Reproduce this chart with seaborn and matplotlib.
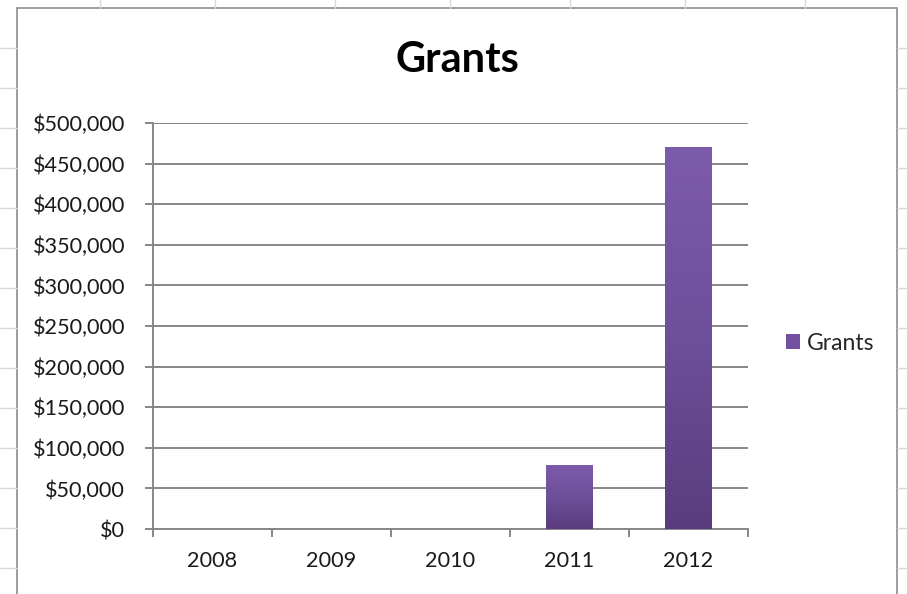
import matplotlib
matplotlib.use("Agg")
import matplotlib.pyplot as plt
import matplotlib.patches as mpatches
from matplotlib.colors import LinearSegmentedColormap
from matplotlib.ticker import FuncFormatter, FixedLocator
import numpy as np
import pandas as pd
import seaborn as sns

years = ["2008", "2009", "2010", "2011", "2012"]
grants = [0, 0, 0, 79000, 470000]
yticks = [0, 50000, 100000, 150000, 200000, 250000, 300000, 350000, 400000, 450000, 500000]

sns.set_theme(style="white")
plt.rcParams['font.family'] = ['Lato', 'DejaVu Sans']

df = pd.DataFrame({"Year": years, "Grants": grants})

fig = plt.figure(figsize=(9.07, 5.94), dpi=100)
fig.patch.set_facecolor("white")

# spreadsheet-cell background lines outside the chart frame
for yy in [48, 88, 128, 168, 208, 248, 288, 328, 368, 408, 448, 488, 528, 568]:
    fig.add_artist(plt.Line2D([0, 17/907], [1 - yy/594]*2, color="#d9d9d9", lw=1, transform=fig.transFigure))
    fig.add_artist(plt.Line2D([897/907, 1], [1 - yy/594]*2, color="#d9d9d9", lw=1, transform=fig.transFigure))
for xx in [100, 215, 335, 450, 570, 685, 805]:
    fig.add_artist(plt.Line2D([xx/907]*2, [1 - 8/594, 1], color="#d9d9d9", lw=1, transform=fig.transFigure))

frame = mpatches.Rectangle((17/907, -0.01), 880/907, 1 - 8/594 + 0.01, transform=fig.transFigure,
                           fill=False, edgecolor="#8c8c8c", lw=1.2)
fig.add_artist(frame)

ax = fig.add_axes([153/907, 1 - 529/594, 595/907, 406/594])
ax.set_facecolor("none")

bar_color = "#6a4b94"
sns.barplot(data=df, x="Year", y="Grants", color=bar_color, width=0.39, label="Grants",
            ax=ax, saturation=1, zorder=3, linewidth=0)

# vertical gradient inside each bar
cmap = LinearSegmentedColormap.from_list("g", ["#5a3c7e", "#6e4f9a", "#7d5bab"])
grad = np.linspace(0, 1, 256).reshape(-1, 1)
for p in ax.patches:
    h = p.get_height()
    if h <= 0:
        continue
    x0 = p.get_x()
    w = p.get_width()
    im = ax.imshow(grad, cmap=cmap, origin="lower", aspect="auto",
                   extent=[x0, x0 + w, 0, h], zorder=4)
    im.set_clip_path(p)

ax.set_xlim(-0.5, 4.5)
ax.set_ylim(0, 500000)
ax.yaxis.set_major_locator(FixedLocator(yticks))
ax.yaxis.set_major_formatter(FuncFormatter(lambda v, pos: "${:,.0f}".format(v)))
ax.grid(axis="y", color="#878787", lw=1.4, zorder=0)
ax.set_axisbelow(True)

ax.set_xlabel("")
ax.set_ylabel("")
for s in ["top", "right"]:
    ax.spines[s].set_visible(False)
for s in ["left", "bottom"]:
    ax.spines[s].set_color("#878787")
    ax.spines[s].set_linewidth(1.4)

ax.xaxis.set_minor_locator(FixedLocator(np.arange(-0.5, 5, 1)))
ax.tick_params(axis="x", which="major", length=0, pad=16, labelsize=15.6, labelcolor="#1a1a1a")
ax.tick_params(axis="x", which="minor", length=6, width=1.4, color="#878787", direction="out", bottom=True)
ax.tick_params(axis="y", which="major", length=6, width=1.4, color="#878787", direction="out", left=True,
               pad=14, labelsize=15.6, labelcolor="#1a1a1a")

fig.text(457/907, 1 - 60/594, "Grants", ha="center", va="center", fontsize=30, fontweight="bold", color="black")

handle = mpatches.Patch(facecolor="#7350a0", edgecolor="none")
leg = ax.legend([handle], ["Grants"], loc="center left", bbox_to_anchor=(777/907, 1 - 343/594),
                bbox_transform=fig.transFigure,
                frameon=False, fontsize=16.5, handlelength=0.6, handleheight=0.6, handletextpad=0.3,
                borderaxespad=0)

fig.savefig("out.png", dpi=100)
